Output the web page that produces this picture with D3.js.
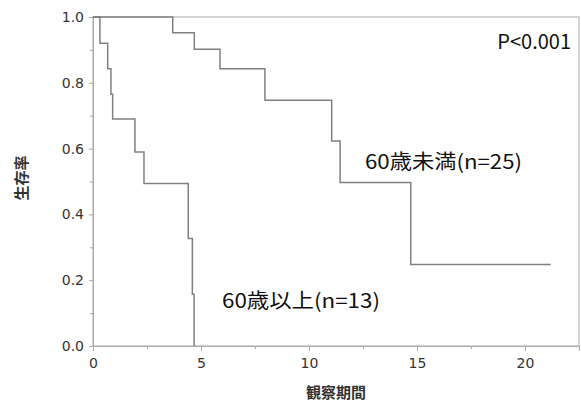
<!DOCTYPE html>
<html><head><meta charset="utf-8">
<script src="https://cdn.jsdelivr.net/npm/d3@7"></script>
<style>body{margin:0;background:#fff}svg{display:block}</style>
</head><body>
<svg id="c" width="581" height="404"></svg>
<script>
// Kaplan-Meier step points: [time, survival after step]
const groupOld = [[0,1],[0.32,0.92],[0.68,0.843],[0.83,0.765],[0.91,0.69],[1.94,0.59],[2.36,0.494],[4.41,0.327],[4.6,0.157],[4.68,0]];
const groupYoung = [[0,1],[3.69,0.952],[4.69,0.902],[5.88,0.843],[7.96,0.747],[11.05,0.623],[11.44,0.497],[14.71,0.248],[21.19,0.248]];
const xTicks = [0,5,10,15,20];
const xMinor = [2.5,7.5,12.5,17.5,22.5];
const yTicks = [0,0.2,0.4,0.6,0.8,1.0];
const yMinor = [0.1,0.3,0.5,0.7,0.9];
const labels = {young:"60歳未満(n=25)", old:"60歳以上(n=13)", p:"P<0.001", x:"観察期間", y:"生存率"};

const svg = d3.select("#c");
const L=93, R=579, T=17, B=346;
const x = d3.scaleLinear().domain([0,22.5]).range([L,R]);
const y = d3.scaleLinear().domain([0,1]).range([B,T]);
const font = "'Noto Sans CJK JP','Noto Sans',sans-serif";

// frame
svg.append("rect").attr("x",L).attr("y",T).attr("width",R-L).attr("height",B-T)
  .attr("fill","none").attr("stroke","#aaa").attr("stroke-width",1);

// axes
svg.append("g").attr("transform",`translate(0,${B})`)
  .call(d3.axisBottom(x).tickValues(xTicks).tickFormat(d3.format("d")).tickSize(5).tickPadding(7));
svg.append("g").attr("transform",`translate(0,${B})`)
  .call(d3.axisBottom(x).tickValues(xMinor).tickFormat("").tickSize(3))
  .call(g=>g.select(".domain").remove());
svg.append("g").attr("transform",`translate(${L},0)`)
  .call(d3.axisLeft(y).tickValues(yTicks).tickFormat(d3.format(".1f")).tickSize(4).tickPadding(5));
svg.append("g").attr("transform",`translate(${L},0)`)
  .call(d3.axisLeft(y).tickValues(yMinor).tickFormat("").tickSize(3))
  .call(g=>g.select(".domain").remove());
svg.selectAll(".domain").attr("stroke","#aaa");
svg.selectAll(".tick line").attr("stroke","#aaa");
svg.selectAll(".tick text").attr("font-family","'DejaVu Sans',sans-serif").attr("font-size",14).attr("fill","#333");

// curves
const line = d3.line().x(d=>x(d[0])).y(d=>y(d[1])).curve(d3.curveStepAfter);
svg.append("path").datum(groupYoung).attr("d",line).attr("fill","none")
  .attr("stroke","#808080").attr("stroke-width",1.5);
svg.append("path").datum(groupOld).attr("d",line).attr("fill","none")
  .attr("stroke","#808080").attr("stroke-width",1.5);

// annotations
svg.append("text").attr("x",571).attr("y",49).attr("text-anchor","end")
  .attr("font-family",font).attr("font-size",20).attr("fill","#111").text(labels.p);
svg.append("text").attr("x",365).attr("y",169).attr("textLength",157).attr("lengthAdjust","spacingAndGlyphs")
  .attr("font-family",font).attr("font-size",20).attr("fill","#111").text(labels.young);
svg.append("text").attr("x",222).attr("y",308).attr("textLength",158).attr("lengthAdjust","spacingAndGlyphs")
  .attr("font-family",font).attr("font-size",20).attr("fill","#111").text(labels.old);

// axis titles
svg.append("text").attr("x",336).attr("y",398).attr("text-anchor","middle")
  .attr("font-family",font).attr("font-size",15).attr("font-weight","bold").attr("fill","#333").text(labels.x);
svg.append("text").attr("transform","translate(27,178) rotate(-90)").attr("text-anchor","middle")
  .attr("font-family",font).attr("font-size",15).attr("font-weight","bold").attr("fill","#333").text(labels.y);
</script>
</body></html>
